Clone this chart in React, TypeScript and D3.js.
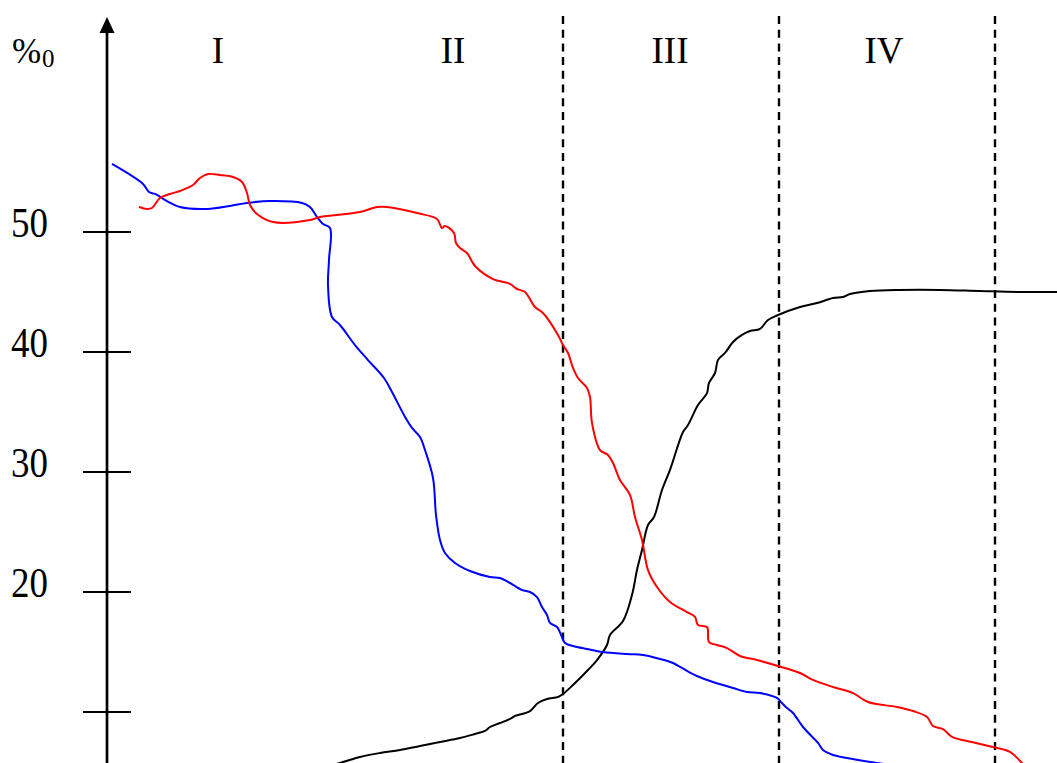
import React from "react";
import * as d3 from "d3";

// x in arbitrary time units (0..95), y in per mille
const blue = [
  [0.5, 55.67], [3.6, 54.0], [4.2, 53.33], [4.8, 53.17], [6.0, 52.58], [7.3, 52.08],
  [10.0, 51.92], [12.3, 52.17], [14.0, 52.42], [16.3, 52.58], [19.5, 52.42], [20.3, 52.08],
  [21.0, 51.25], [21.6, 50.67], [22.3, 50.33], [22.2, 47.67], [22.1, 45.58], [22.5, 42.92],
  [23.3, 42.25], [24.8, 40.58], [26.1, 39.33], [27.7, 37.83], [28.5, 36.67], [29.7, 34.75],
  [30.5, 33.67], [31.3, 32.92], [31.8, 31.83], [32.6, 29.5], [32.9, 26.42], [33.3, 24.33],
  [33.8, 23.25], [34.8, 22.42], [36.3, 21.75], [38.3, 21.25], [39.3, 21.17], [40.3, 20.75],
  [41.5, 20.17], [42.3, 20.0], [43.0, 19.58], [43.5, 18.75], [44.0, 18.08], [44.3, 17.42],
  [45.0, 17.08], [45.5, 16.25], [45.8, 15.75], [46.6, 15.5], [48.0, 15.25], [49.6, 15.0],
  [52.0, 14.83], [53.6, 14.75], [55.3, 14.42], [56.6, 14.08], [57.5, 13.67], [59.0, 13.0],
  [60.6, 12.5], [62.6, 12.0], [64.0, 11.67], [65.3, 11.58], [67.0, 11.17], [67.5, 10.75],
  [68.0, 10.33], [68.6, 9.92], [69.6, 8.75], [71.1, 7.42], [71.6, 6.83], [72.6, 6.42],
  [74.0, 6.17], [77.0, 5.75], [79.3, 5.5],
];

const red = [
  [3.2, 52.08], [4.0, 51.92], [4.5, 52.0], [5.3, 52.83], [6.3, 53.17], [7.3, 53.42],
  [8.6, 53.92], [9.3, 54.5], [10.1, 54.83], [11.3, 54.75], [12.6, 54.58], [13.5, 54.17],
  [14.0, 53.25], [14.3, 52.25], [15.0, 51.5], [16.6, 50.83], [20.3, 51.0], [21.3, 51.25],
  [25.3, 51.67], [27.0, 52.08], [28.0, 52.08], [31.0, 51.58], [33.0, 51.08], [33.5, 50.33],
  [33.8, 50.5], [34.7, 49.92], [34.9, 49.08], [35.3, 48.67], [36.0, 48.25], [36.8, 47.17],
  [38.6, 46.08], [40.3, 45.67], [41.0, 45.25], [41.8, 45.0], [42.8, 43.75], [43.6, 43.25],
  [45.1, 41.42], [45.6, 40.58], [46.1, 39.92], [46.6, 38.67], [47.1, 37.83], [48.0, 37.0],
  [48.3, 36.25], [48.5, 34.08], [49.3, 31.83], [50.1, 31.42], [50.6, 30.75], [51.3, 29.33],
  [52.3, 28.08], [52.8, 26.25], [53.5, 24.33], [54.1, 21.83], [55.0, 20.42], [56.3, 19.17],
  [58.0, 18.33], [58.8, 17.92], [59.1, 17.25], [60.0, 17.08], [60.2, 15.83], [61.0, 15.58],
  [62.0, 15.33], [63.3, 14.67], [65.0, 14.33], [67.1, 13.83], [69.3, 13.25], [70.6, 12.67],
  [72.6, 12.08], [74.6, 11.58], [76.1, 10.83], [79.0, 10.42], [80.6, 10.08], [82.0, 9.58],
  [82.6, 8.83], [83.6, 8.58], [84.5, 7.92], [86.0, 7.58], [88.6, 7.08], [90.3, 6.67],
  [91.5, 5.75], [92.3, 5.0],
];

const black = [
  [21.3, 5.33], [23.3, 5.75], [25.3, 6.25], [27.3, 6.58], [29.3, 6.83], [31.3, 7.17],
  [33.3, 7.5], [35.3, 7.83], [36.8, 8.17], [37.8, 8.42], [38.3, 8.75], [39.3, 9.08],
  [40.3, 9.42], [40.8, 9.67], [42.3, 10.08], [43.1, 10.75], [44.0, 11.08], [45.1, 11.25],
  [45.6, 11.5], [46.6, 12.25], [48.1, 13.5], [49.0, 14.33], [50.0, 15.58], [50.3, 16.42],
  [51.6, 17.58], [52.5, 19.75], [53.0, 21.83], [53.5, 23.5], [54.1, 25.58], [54.7, 26.25],
  [55.5, 28.5], [56.3, 30.17], [57.6, 33.33], [58.1, 33.92], [59.1, 35.58], [60.0, 36.58],
  [60.2, 37.42], [60.8, 38.25], [61.1, 39.33], [61.8, 39.92], [62.6, 40.83], [63.5, 41.42],
  [64.3, 41.75], [65.3, 41.92], [66.1, 42.67], [67.1, 43.08], [69.3, 43.75], [71.0, 44.08],
  [72.6, 44.5], [73.6, 44.58], [74.3, 44.83], [76.3, 45.08], [79.3, 45.17], [83.3, 45.17],
  [87.3, 45.08], [91.3, 45.0], [95.0, 45.0],
];

const dividers = [45.6, 67.2, 88.8];
const phases = ["I", "II", "III", "IV"];
const phaseX = [11.1, 34.6, 56.3, 77.7];
const ticks = [10, 20, 30, 40, 50];
const tickLabels = ["", "20", "30", "40", "50"];

const W = 1057;
const H = 763;

export default function App() {
  const x = d3.scaleLinear().domain([0, 95]).range([107, 1057]);
  const y = d3.scaleLinear().domain([0, 60]).range([832, 112]);
  const line = d3.line<number[]>()
    .x(d => x(d[0]))
    .y(d => y(d[1]))
    .curve(d3.curveCatmullRom.alpha(0.5));
  const font = "'Liberation Serif', 'Times New Roman', serif";
  const x0 = x(0);

  return (
    <svg width={W} height={H} style={{ position: "absolute", left: 0, top: 0 }}
      fontFamily={font}>
      <rect width={W} height={H} fill="white" />

      {dividers.map((d, i) => (
        <line key={i} x1={x(d)} x2={x(d)} y1={16} y2={H} stroke="black"
          strokeWidth={2.4} strokeDasharray="8,5.7" />
      ))}

      {/* y axis with arrow */}
      <line x1={x0} x2={x0} y1={30} y2={H} stroke="black" strokeWidth={2.7} />
      <path d={`M${x0},17 L${x0 - 7.5},33 L${x0 + 7.5},33 Z`} fill="black" />

      {ticks.map((t, i) => (
        <g key={t}>
          <line x1={x0 - 24} x2={x0 + 24} y1={y(t)} y2={y(t)} stroke="black" strokeWidth={2} />
          {tickLabels[i] && (
            <text transform={`translate(48,${y(t) + 5}) scale(1,1.13)`} textAnchor="end"
              fontSize={37}>{tickLabels[i]}</text>
          )}
        </g>
      ))}

      <text x={12} y={63} fontSize={35}>%</text>
      <text x={42} y={67} fontSize={25}>0</text>

      {phases.map((p, i) => (
        <text key={p} x={x(phaseX[i])} y={63} textAnchor="middle" fontSize={37}>{p}</text>
      ))}

      <path d={line(black) ?? ""} fill="none" stroke="black" strokeWidth={2} strokeLinejoin="round" />
      <path d={line(blue) ?? ""} fill="none" stroke="#0000ff" strokeWidth={2} strokeLinejoin="round" />
      <path d={line(red) ?? ""} fill="none" stroke="#ff0000" strokeWidth={2} strokeLinejoin="round" />
    </svg>
  );
}
